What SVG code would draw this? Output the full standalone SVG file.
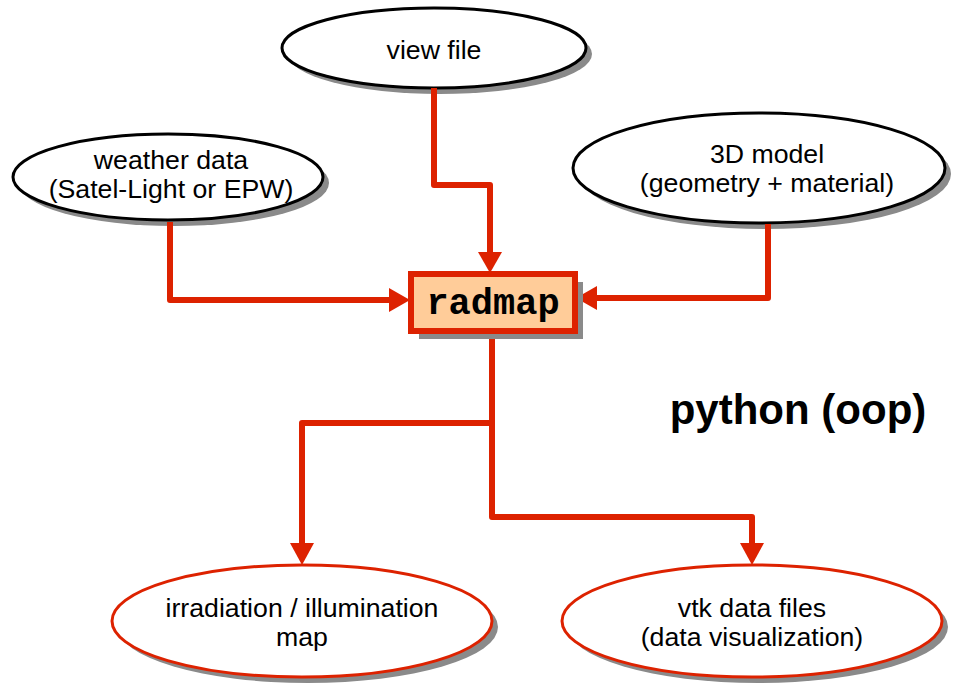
<svg xmlns="http://www.w3.org/2000/svg" width="954" height="683" viewBox="0 0 954 683">
<defs>
<style>
.sh{fill:#8a8a8a}
.in{fill:#fff;stroke:#000;stroke-width:3}
.out{fill:#fff;stroke:#dd2200;stroke-width:3}
.t{font-family:"Liberation Sans",Arial,sans-serif;font-size:26.7px;fill:#000;text-anchor:middle}
.c{fill:none;stroke:#dd2200;stroke-width:6;stroke-linejoin:round}
.ah{fill:#dd2200}
</style>
</defs>
<rect width="954" height="683" fill="#fff"/>
<g id="view">
<ellipse class="sh" cx="440" cy="54" rx="152" ry="40"/>
<ellipse class="in" cx="434" cy="48" rx="152" ry="40"/>
<text class="t" x="434" y="59">view file</text>
</g>
<g id="weather">
<ellipse class="sh" cx="174" cy="183" rx="155" ry="43"/>
<ellipse class="in" cx="168" cy="177" rx="155" ry="43"/>
<text class="t" x="171" y="169">weather data</text>
<text class="t" x="171" y="198">(Satel-Light or EPW)</text>
</g>
<g id="model">
<ellipse class="sh" cx="765" cy="174" rx="186" ry="55"/>
<ellipse class="in" cx="759" cy="168" rx="186" ry="55"/>
<text class="t" x="767" y="163">3D model</text>
<text class="t" x="767" y="192">(geometry + material)</text>
</g>
<g id="connectors">
<path class="c" d="M434 88 V185 H490 V258"/>
<polygon class="ah" points="478,252 502,252 490,273"/>
<path class="c" d="M170 222 V300 H396"/>
<polygon class="ah" points="389,288 389,312 410,300"/>
<path class="c" d="M768 224 V298 H590"/>
<polygon class="ah" points="597,286 597,310 576,298"/>
<path class="c" d="M492 333 V517 H752 V548"/>
<polygon class="ah" points="740,543 764,543 752,565"/>
<path class="c" d="M492 423 H302 V548"/>
<polygon class="ah" points="290,543 314,543 302,565"/>
</g>
<g id="radmap">
<rect x="419" y="282" width="164" height="57" fill="#8a8a8a"/>
<rect x="411" y="274" width="164" height="57" fill="#ffcc99" stroke="#dd2200" stroke-width="6"/>
<text x="493" y="314" font-family="'Liberation Mono','Courier New',monospace" font-weight="bold" font-size="37" text-anchor="middle" fill="#000">radmap</text>
</g>
<g id="irradiation">
<ellipse class="sh" cx="308" cy="627" rx="190" ry="56"/>
<ellipse class="out" cx="302" cy="621" rx="190" ry="56"/>
<text class="t" x="302" y="617">irradiation / illumination</text>
<text class="t" x="302" y="646">map</text>
</g>
<g id="vtk">
<ellipse class="sh" cx="758" cy="627" rx="190" ry="56"/>
<ellipse class="out" cx="752" cy="621" rx="190" ry="56"/>
<text class="t" x="752" y="617">vtk data files</text>
<text class="t" x="752" y="646">(data visualization)</text>
</g>
<text x="798" y="424" font-family="'Liberation Sans',Arial,sans-serif" font-weight="bold" font-size="42" text-anchor="middle" fill="#000">python (oop)</text>
</svg>
